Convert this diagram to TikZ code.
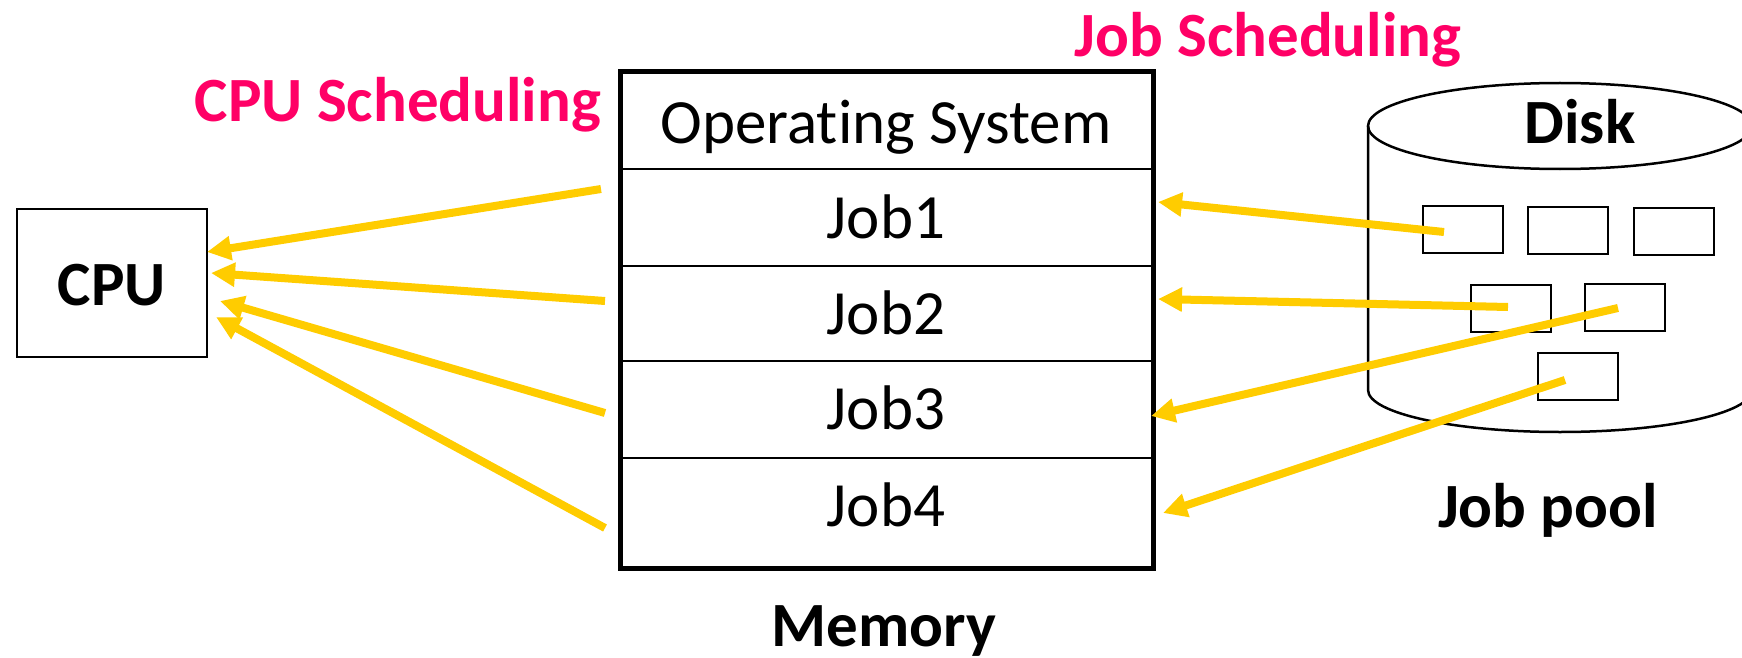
\documentclass[tikz,border=0pt]{standalone}
\usepackage{fontspec}
\setmainfont{Carlito}[Ligatures={NoCommon,NoContextual}]
\usetikzlibrary{arrows.meta}
\definecolor{pinkc}{HTML}{FF0066}
\definecolor{yel}{HTML}{FFCC00}
\begin{document}
\begin{tikzpicture}[x=1pt,y=-1pt,
  reg/.style={font=\fontsize{63}{70}\selectfont, inner sep=0pt, anchor=base},
  bld/.style={font=\bfseries\fontsize{63}{70}\selectfont, inner sep=0pt, anchor=base},
  pnk/.style={bld, text=pinkc},
  row/.style={draw, line width=2pt, minimum width=531pt, inner sep=0pt},
  sbox/.style={draw, line width=2pt, minimum width=80pt, minimum height=47pt, inner sep=0pt},
  arr/.style={draw=yel, line width=8pt, -{Triangle[length=24pt,width=23pt]}}]
\useasboundingbox (0,0) rectangle (1742,658);
\clip (0,0) rectangle (1742,658);
% CPU
\node[draw, line width=2pt, minimum width=190pt, minimum height=148pt, inner sep=0pt] (cpu) at (112,283) {};
\node[bld] (cputxt) at (112,305) {CPU};
% labels
\node[pnk] (cpusched) at (398,122) {CPU Scheduling};
\node[pnk] (jobsched) at (1268,57) {Job Scheduling};
% memory
\node[row, minimum height=96pt] (os) at (886.5,121) {};
\node[row, minimum height=97pt] (r1) at (886.5,217.5) {};
\node[row, minimum height=95pt] (r2) at (886.5,313.5) {};
\node[row, minimum height=97pt] (r3) at (886.5,409.5) {};
\node[row, minimum height=109pt] (r4) at (886.5,512.5) {};
\draw[line width=5pt] (os.north west) rectangle (r4.south east);
\node[reg] (ostxt) at (886,143) {Operating System};
\node[reg] (j1txt) at (886,238) {Job1};
\node[reg] (j2txt) at (886,334) {Job2};
\node[reg] (j3txt) at (886,429) {Job3};
\node[reg] (j4txt) at (886,526) {Job4};
\node[bld] (memtxt) at (884,646) {Memory};
% disk
\draw[line width=2.5pt] (1368,126) -- (1368,390) arc[start angle=180, end angle=0, x radius=192, y radius=42] -- (1752,126);
\draw[line width=2.5pt] (1560,126) ellipse[x radius=192, y radius=43];
\node[bld] (disktxt) at (1580,143) {Disk};
\node[bld] (pooltxt) at (1548,527) {Job pool};
\node[sbox] (b1) at (1463,229.5) {};
\node[sbox] (b2) at (1568,230.5) {};
\node[sbox] (b3) at (1674,231) {};
\node[sbox] (b4) at (1511,308) {};
\node[sbox] (b5) at (1625,307.5) {};
\node[sbox] (b6) at (1577.5,376) {};
% arrow end points
\coordinate (c1s) at (601,189); \coordinate (c1e) at (207,252);
\coordinate (c2s) at (605,301); \coordinate (c2e) at (211,273);
\coordinate (c3s) at (605,413); \coordinate (c3e) at (220,301);
\coordinate (c4s) at (605,528); \coordinate (c4e) at (216,317);
\coordinate (j1s) at (1444,232); \coordinate (j1e) at (1158,202);
\coordinate (j2s) at (1508,307); \coordinate (j2e) at (1158,299);
\coordinate (j3s) at (1618,308); \coordinate (j3e) at (1151,416);
\coordinate (j4s) at (1565,380); \coordinate (j4e) at (1163,513);
\draw[arr] (c1s) -- (c1e);
\draw[arr] (c2s) -- (c2e);
\draw[arr] (c3s) -- (c3e);
\draw[arr] (c4s) -- (c4e);
\draw[arr] (j1s) -- (j1e);
\draw[arr] (j2s) -- (j2e);
\draw[arr] (j3s) -- (j3e);
\draw[arr] (j4s) -- (j4e);
\end{tikzpicture}
\end{document}
